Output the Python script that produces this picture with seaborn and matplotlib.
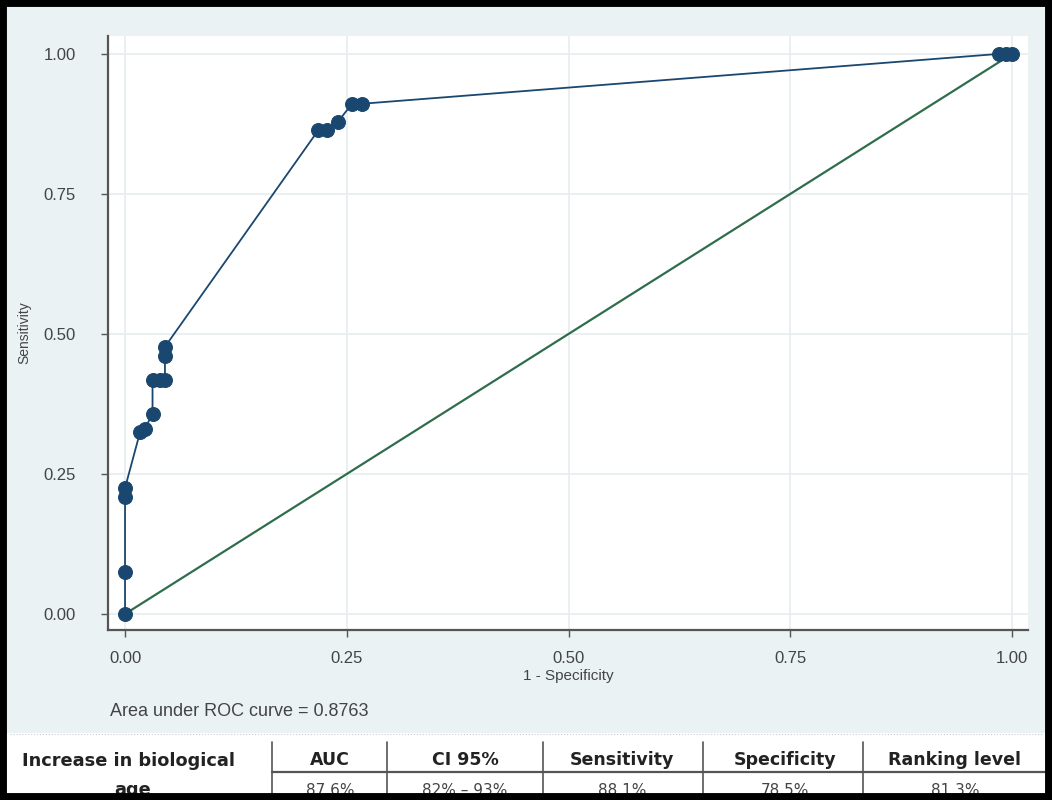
import numpy as np
import pandas as pd
import matplotlib
matplotlib.use("Agg")
import matplotlib.pyplot as plt
import seaborn as sns
from matplotlib.patches import Rectangle

sns.set_style("white")
plt.rcParams['font.family'] = ['Liberation Sans', 'DejaVu Sans']

# ROC points
fpr = [0.0, 0.0, 0.0, 0.0, 0.017, 0.022, 0.031, 0.031, 0.039, 0.045, 0.045, 0.045,
       0.218, 0.228, 0.240, 0.256, 0.267, 0.985, 0.993, 1.0]
tpr = [0.0, 0.075, 0.209, 0.225, 0.325, 0.330, 0.357, 0.418, 0.418, 0.418, 0.461, 0.477,
       0.864, 0.864, 0.879, 0.911, 0.911, 1.0, 1.0, 1.0]
ref_x = [0.0, 1.0]
ref_y = [0.0, 1.0]
ticks = [0.0, 0.25, 0.5, 0.75, 1.0]
tick_labels = ["0.00", "0.25", "0.50", "0.75", "1.00"]
auc_text = "Area under ROC curve = 0.8763"

tbl_headers = ["AUC", "CI 95%", "Sensitivity", "Specificity", "Ranking level"]
tbl_values = ["87.6%", "82% \u2013 93%", "88.1%", "78.5%", "81.3%"]

W, H = 1052, 800
fig = plt.figure(figsize=(W / 100, H / 100), dpi=100)
fig.patch.set_facecolor('#EAF2F3')

ax = fig.add_axes([108 / W, 1 - 630 / H, (1028 - 108) / W, (630 - 36) / H])
ax.set_facecolor('white')

roc = pd.DataFrame({'fpr': fpr, 'tpr': tpr})
ref = pd.DataFrame({'x': ref_x, 'y': ref_y})
sns.lineplot(data=ref, x='x', y='y', color='#2f6e4c', lw=1.6, ax=ax, zorder=2)
sns.lineplot(data=roc, x='fpr', y='tpr', sort=False, estimator=None, errorbar=None,
             color='#1a476f', lw=1.3, marker='o', markersize=10,
             markeredgecolor='#1a476f', ax=ax, zorder=3)

ax.set_xlim(-0.0192, 1.018)
ax.set_ylim(-0.0286, 1.032)
ax.set_xticks(ticks)
ax.set_xticklabels(tick_labels)
ax.set_yticks(ticks)
ax.set_yticklabels(tick_labels)
ax.grid(True, color='#E6EEF0', lw=1.2)
ax.tick_params(axis='x', direction='out', length=5, width=1, color='#555555',
               labelcolor='#444444', labelsize=12, pad=10, bottom=True)
ax.tick_params(axis='y', direction='out', length=5, width=1, color='#555555',
               labelcolor='#444444', labelsize=12, pad=18, left=True)
for s in ['top', 'right']:
    ax.spines[s].set_visible(False)
for s in ['left', 'bottom']:
    ax.spines[s].set_color('#555555')
    ax.spines[s].set_linewidth(1.6)
ax.set_xlabel('1 - Specificity', fontsize=11, color='#444444', labelpad=2)
ax.set_ylabel('Sensitivity', fontsize=10, color='#444444', labelpad=9)

fig.text(110 / W, 1 - 712 / H, auc_text, fontsize=13, color='#444444',
         ha='left', va='center')

# table area at the bottom
tax = fig.add_axes([0, 0, 1, 67 / H])
tax.set_xlim(0, W)
tax.set_ylim(800, 733)
tax.axis('off')
tax.add_patch(Rectangle((0, 733), W, 67, color='white', zorder=0))
tax.plot([10, 1042], [734, 734], color='#cccccc', lw=0.8, ls=':')

seps = [272, 387, 543, 703, 863]
centers = [330, 465, 622, 785, 955]
for sx in seps:
    tax.plot([sx, sx], [742, 800], color='#555555', lw=1.2)
tax.plot([272, 1045], [772, 772], color='#555555', lw=1.6)
tax.text(128, 761, "Increase in biological", ha='center', va='center',
         fontsize=12.8, fontweight='bold', family='DejaVu Sans', color='#222222')
tax.text(133, 790, "age", ha='center', va='center',
         fontsize=12.8, fontweight='bold', family='DejaVu Sans', color='#222222')
for cx, h, v in zip(centers, tbl_headers, tbl_values):
    tax.text(cx, 760, h, ha='center', va='center', fontsize=12.5,
             fontweight='bold', family='DejaVu Sans', color='#222222')
    tax.text(cx, 790, v, ha='center', va='center', fontsize=11,
             family='DejaVu Sans', color='#444444')

# black frame around the whole picture
fig.add_artist(Rectangle((0, 0), 1, 1, transform=fig.transFigure, fill=False,
                         edgecolor='black', lw=10, zorder=10))

fig.savefig('out.png', dpi=100, facecolor=fig.get_facecolor())
